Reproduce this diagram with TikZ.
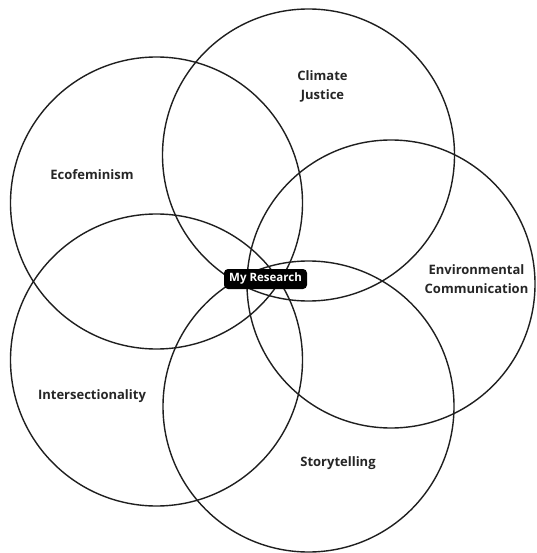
\documentclass[tikz,border=0pt]{standalone}
\usepackage{fontspec}
\setmainfont{Open Sans}
\begin{document}
\begin{tikzpicture}[x=1pt,y=-1pt,
  ring/.style={draw=black!88, line width=1.4pt},
  lbl/.style={font=\bfseries\fontsize{13}{18.5}\selectfont, text=black!85, align=center, inner sep=0pt},
  core/.style={fill=black, text=white, rounded corners=4pt, font=\bfseries\fontsize{11.5}{14}\selectfont, minimum width=83pt, minimum height=20pt, inner sep=2pt}]
\useasboundingbox (0,0) rectangle (536,553);
\fill[white] (0,0) rectangle (536,553);
% circles
\node[ring, circle, minimum size=292pt, inner sep=0pt] (eco) at (156.5,203) {};
\node[ring, circle, minimum size=292pt, inner sep=0pt] (cj) at (308.5,155) {};
\node[ring, circle, minimum size=288pt, inner sep=0pt] (env) at (391,284) {};
\node[ring, circle, minimum size=292pt, inner sep=0pt] (inter) at (156.5,360) {};
\node[ring, circle, minimum size=291pt, inner sep=0pt] (story) at (308.5,406.5) {};
% labels
\node[lbl] (teco) at (92,175) {Ecofeminism};
\node[lbl] (tcj) at (322.5,86.5) {Climate\\Justice};
\node[lbl] (tenv) at (476.5,279) {Environmental\\Communication};
\node[lbl] (tinter) at (92,396) {Intersectionality};
\node[lbl] (tstory) at (338,463) {Storytelling};
\node[core] (me) at (265.5,279) {My Research};
\end{tikzpicture}
\end{document}
